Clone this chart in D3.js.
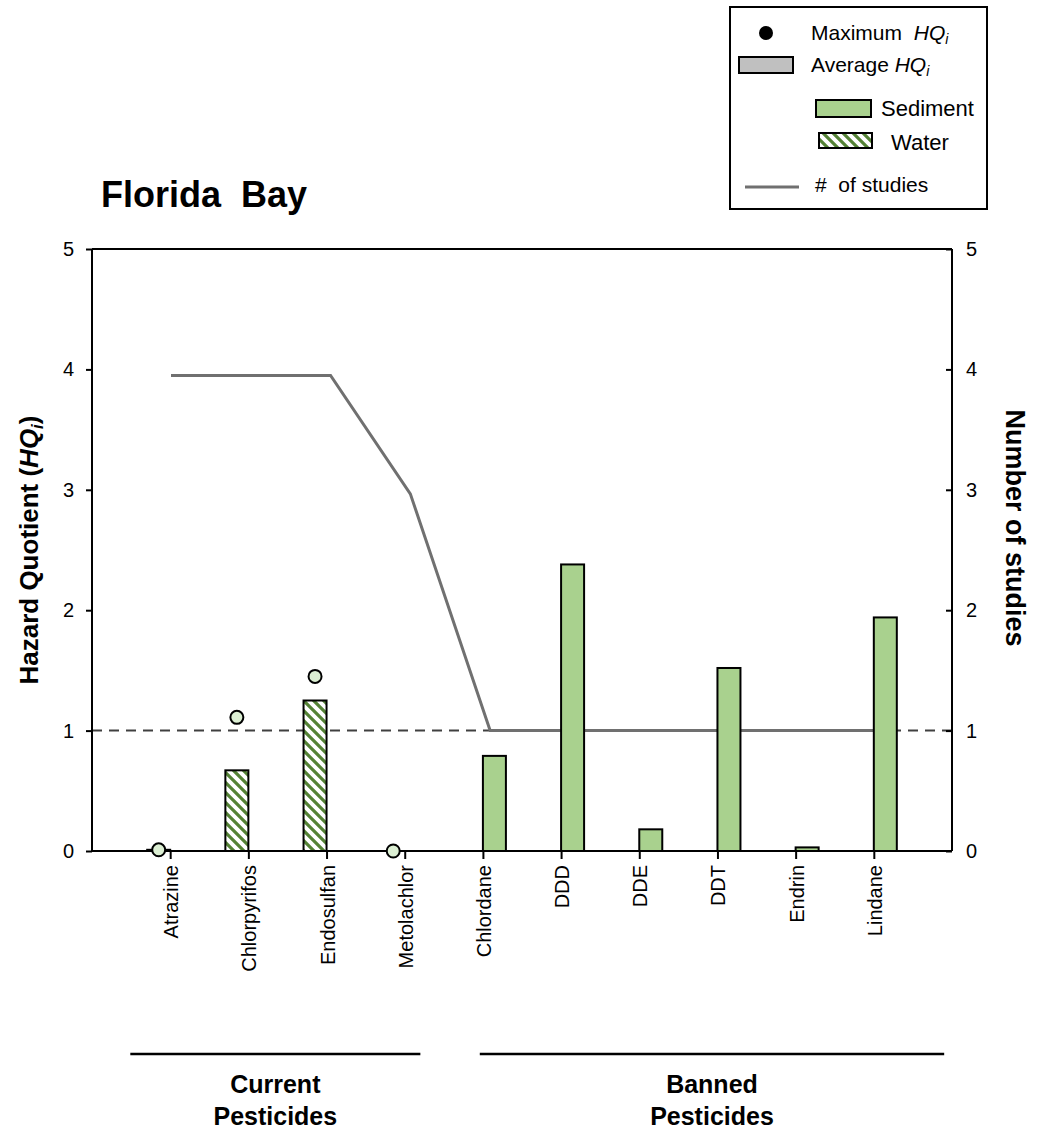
<!DOCTYPE html>
<html>
<head>
<meta charset="utf-8">
<script src="https://cdn.jsdelivr.net/npm/d3@7"></script>
<style>
  body { margin: 0; background: #fff; }
  text { font-family: "Liberation Sans", Arial, sans-serif; }
</style>
</head>
<body>
<div id="wrapper"></div>
<script>
const categories = ["Atrazine", "Chlorpyrifos", "Endosulfan", "Metolachlor", "Chlordane", "DDD", "DDE", "DDT", "Endrin", "Lindane"]
const waterAvg = [0.01, 0.67, 1.25, 0, null, null, null, null, null, null]
const waterMax = [0.01, 1.11, 1.45, 0, null, null, null, null, null, null]
const sedimentAvg = [null, null, null, null, 0.79, 2.38, 0.18, 1.52, 0.03, 1.94]
const studies = [4, 4, 4, 3, 1, 1, 1, 1, 1, 1]
const yTicks = [0, 1, 2, 3, 4, 5]
const groupNames = [["Current", "Pesticides"], ["Banned", "Pesticides"]]
const groupSpans = [[0.49, 4.2], [4.96, 10.9]]
const threshold = 1

function drawChart() {
  let dimensions = {
    width: 1044,
    height: 1131,
    margin: { top: 249, right: 92, bottom: 280, left: 92 },
  }
  dimensions.boundedWidth = dimensions.width - dimensions.margin.left - dimensions.margin.right
  dimensions.boundedHeight = dimensions.height - dimensions.margin.top - dimensions.margin.bottom

  const wrapper = d3.select("#wrapper")
    .append("svg")
    .attr("width", dimensions.width)
    .attr("height", dimensions.height)

  const defs = wrapper.append("defs")
  const hatch = defs.append("pattern")
    .attr("id", "hatch")
    .attr("patternUnits", "userSpaceOnUse")
    .attr("width", 10)
    .attr("height", 10)
  hatch.append("rect").attr("width", 10).attr("height", 10).attr("fill", "#fff")
  hatch.append("path")
    .attr("d", "M-2,-2 L12,12 M-7,3 L3,13 M3,-7 L13,3")
    .attr("stroke", "#548235")
    .attr("stroke-width", 3.2)

  const bounds = wrapper.append("g")
    .attr("transform", `translate(${dimensions.margin.left},${dimensions.margin.top})`)

  // main scales
  const xScale = d3.scaleLinear()
    .domain([0, categories.length + 1])
    .range([0, dimensions.boundedWidth])
  const yScale = d3.scaleLinear()
    .domain([0, 5])
    .range([dimensions.boundedHeight, 0])

  // secondary scales used by the # of studies line
  const xLine = d3.scaleLinear()
    .domain([1, 10])
    .range([79, 797])
  const yLine = d3.scaleLinear()
    .domain([0, 5])
    .range([dimensions.boundedHeight - 2, 8])

  const barWidth = 23

  // threshold dashed line
  bounds.append("line")
    .attr("x1", 0)
    .attr("x2", dimensions.boundedWidth)
    .attr("y1", yScale(threshold))
    .attr("y2", yScale(threshold))
    .attr("stroke", "#404040")
    .attr("stroke-width", 2)
    .attr("stroke-dasharray", "10,7")

  // studies line
  const lineGenerator = d3.line()
    .x((d, i) => xLine(i + 1))
    .y(d => yLine(d))
  bounds.append("path")
    .attr("d", lineGenerator(studies))
    .attr("fill", "none")
    .attr("stroke", "#707070")
    .attr("stroke-width", 3)

  // water bars (left of the tick)
  bounds.append("g").selectAll("rect")
    .data(waterAvg.map((v, i) => ({ v, i })).filter(d => d.v !== null && d.v > 0))
    .join("rect")
    .attr("x", d => xScale(d.i + 1) - barWidth)
    .attr("y", d => yScale(d.v))
    .attr("width", barWidth)
    .attr("height", d => yScale(0) - yScale(d.v))
    .attr("fill", "url(#hatch)")
    .attr("stroke", "#000")
    .attr("stroke-width", 2)

  // sediment bars (right of the tick)
  bounds.append("g").selectAll("rect")
    .data(sedimentAvg.map((v, i) => ({ v, i })).filter(d => d.v !== null))
    .join("rect")
    .attr("x", d => xScale(d.i + 1))
    .attr("y", d => yScale(d.v))
    .attr("width", barWidth)
    .attr("height", d => yScale(0) - yScale(d.v))
    .attr("fill", "#a9d18e")
    .attr("stroke", "#000")
    .attr("stroke-width", 2)

  // axes
  const yAxisLeft = d3.axisLeft(yScale).tickValues(yTicks).tickSize(6).tickPadding(12).tickFormat(d3.format("d"))
  const gl = bounds.append("g").call(yAxisLeft)
  const yAxisRight = d3.axisRight(yScale).tickValues(yTicks).tickSize(-6).tickPadding(14).tickFormat(d3.format("d"))
  const gr = bounds.append("g")
    .attr("transform", `translate(${dimensions.boundedWidth},0)`)
    .call(yAxisRight)
  const xAxis = d3.axisBottom(xScale)
    .tickValues(d3.range(1, categories.length + 1))
    .tickSize(8)
    .tickFormat("")
  const gx = bounds.append("g")
    .attr("transform", `translate(0,${dimensions.boundedHeight})`)
    .call(xAxis)
  bounds.append("line")
    .attr("x1", 0).attr("x2", dimensions.boundedWidth)
    .attr("y1", 0).attr("y2", 0)
    .attr("stroke", "#000").attr("stroke-width", 2)

  ;[gl, gr, gx].forEach(g => {
    g.select(".domain").attr("stroke", "#000").attr("stroke-width", 2)
    g.selectAll(".tick line").attr("stroke", "#000").attr("stroke-width", 2)
    g.selectAll(".tick text")
      .attr("fill", "#000")
      .style("font-size", "20px")
      .style("font-family", "'Liberation Sans', Arial, sans-serif")
  })
  gl.select(".domain").attr("d", `M0,${dimensions.boundedHeight}V0`)
  gr.select(".domain").attr("d", `M0,${dimensions.boundedHeight}V0`)
  gx.select(".domain").attr("d", `M0,0H${dimensions.boundedWidth}`)

  // category labels
  bounds.append("g").selectAll("text")
    .data(categories)
    .join("text")
    .attr("transform", (d, i) => `translate(${xScale(i + 1) + 8},${dimensions.boundedHeight + 14}) rotate(-90)`)
    .attr("text-anchor", "end")
    .style("font-size", "20px")
    .text(d => d)

  // max circles
  bounds.append("g").selectAll("circle")
    .data(waterMax.map((v, i) => ({ v, i })).filter(d => d.v !== null))
    .join("circle")
    .attr("cx", d => xScale(d.i + 1) - barWidth / 2)
    .attr("cy", d => yScale(d.v))
    .attr("r", 6.5)
    .attr("fill", "#dcefd3")
    .attr("stroke", "#000")
    .attr("stroke-width", 2)

  // group lines and labels
  groupSpans.forEach((span, i) => {
    const gy = dimensions.boundedHeight + 203
    bounds.append("line")
      .attr("x1", xScale(span[0]))
      .attr("x2", xScale(span[1]))
      .attr("y1", gy).attr("y2", gy)
      .attr("stroke", "#000")
      .attr("stroke-width", 2.5)
    const cx = (xScale(span[0]) + xScale(span[1])) / 2
    groupNames[i].forEach((t, j) => {
      bounds.append("text")
        .attr("x", cx)
        .attr("y", gy + 39 + j * 32)
        .attr("text-anchor", "middle")
        .style("font-size", "25px")
        .style("font-weight", "bold")
        .text(t)
    })
  })

  // axis titles
  const leftTitle = wrapper.append("text")
    .attr("transform", `translate(38,${dimensions.margin.top + dimensions.boundedHeight / 2}) rotate(-90)`)
    .attr("text-anchor", "middle")
    .style("font-size", "26px")
    .style("font-weight", "bold")
  leftTitle.append("tspan").text("Hazard Quotient (")
  leftTitle.append("tspan").style("font-style", "italic").text("HQ")
  leftTitle.append("tspan").style("font-style", "italic").style("font-size", "17px").attr("dy", 5).text("i")
  leftTitle.append("tspan").attr("dy", -5).text(")")

  wrapper.append("text")
    .attr("transform", `translate(1006,${dimensions.margin.top + dimensions.boundedHeight / 2 - 22}) rotate(90)`)
    .attr("text-anchor", "middle")
    .style("font-size", "27px")
    .style("font-weight", "bold")
    .text("Number of studies")

  // title
  wrapper.append("text")
    .attr("x", 101)
    .attr("y", 207)
    .style("font-size", "36px")
    .style("font-weight", "bold")
    .attr("xml:space", "preserve")
    .text("Florida  Bay")

  // legend
  const legend = wrapper.append("g")
  legend.append("rect")
    .attr("x", 730).attr("y", 7)
    .attr("width", 257).attr("height", 202)
    .attr("fill", "#fff").attr("stroke", "#000").attr("stroke-width", 2)

  legend.append("circle").attr("cx", 766).attr("cy", 33).attr("r", 7).attr("fill", "#000")
  const t1 = legend.append("text").attr("x", 811).attr("y", 40).style("font-size", "21px")
  t1.append("tspan").text("Maximum ")
  t1.append("tspan").attr("dx", 6).style("font-style", "italic").text("HQ")
  t1.append("tspan").style("font-style", "italic").style("font-size", "14px").attr("dy", 4).text("i")

  legend.append("rect").attr("x", 739).attr("y", 57).attr("width", 54).attr("height", 16)
    .attr("fill", "#c0c0c0").attr("stroke", "#000").attr("stroke-width", 2)
  const t2 = legend.append("text").attr("x", 811).attr("y", 72).style("font-size", "21px")
  t2.append("tspan").text("Average ")
  t2.append("tspan").style("font-style", "italic").text("HQ")
  t2.append("tspan").style("font-style", "italic").style("font-size", "14px").attr("dy", 4).text("i")

  legend.append("rect").attr("x", 816).attr("y", 100).attr("width", 55).attr("height", 17)
    .attr("fill", "#a9d18e").attr("stroke", "#000").attr("stroke-width", 2)
  legend.append("text").attr("x", 881).attr("y", 116).style("font-size", "22px").text("Sediment")

  legend.append("rect").attr("x", 819).attr("y", 133).attr("width", 53).attr("height", 15)
    .attr("fill", "url(#hatch)").attr("stroke", "#000").attr("stroke-width", 2)
  legend.append("text").attr("x", 891).attr("y", 150).style("font-size", "22px").text("Water")

  legend.append("line").attr("x1", 745).attr("x2", 799).attr("y1", 187).attr("y2", 187)
    .attr("stroke", "#707070").attr("stroke-width", 3)
  legend.append("text").attr("x", 815).attr("y", 192).style("font-size", "21px")
    .attr("xml:space", "preserve").text("#  of studies")
}
drawChart()
</script>
</body>
</html>
